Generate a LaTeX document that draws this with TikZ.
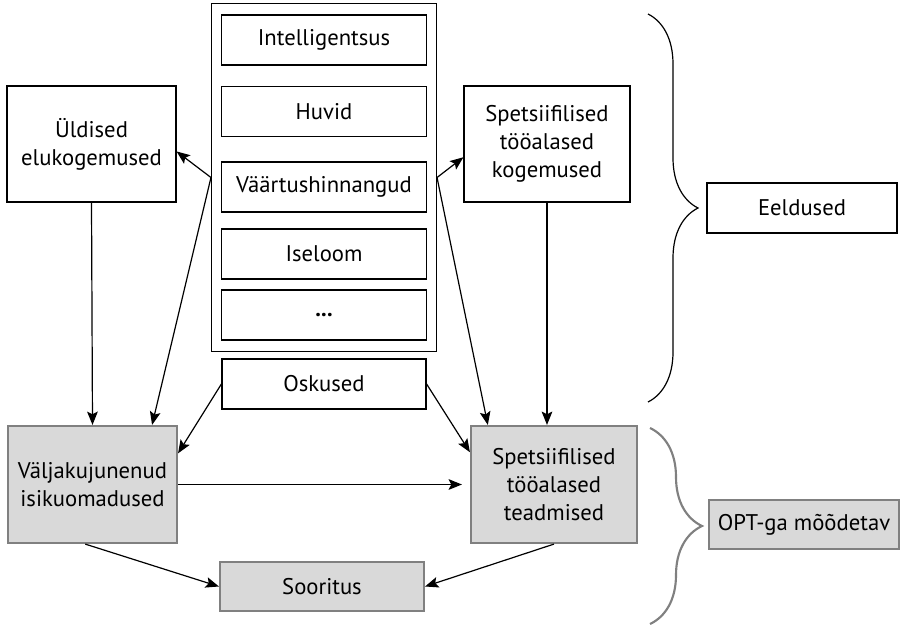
\documentclass[tikz,border=0pt]{standalone}
\usepackage{fontspec}
\setmainfont{PT Sans}
\usetikzlibrary{arrows.meta}
\usetikzlibrary{positioning}
\usetikzlibrary{fit}
\usetikzlibrary{decorations.pathreplacing}
\definecolor{boxgray}{RGB}{217,217,217}
\definecolor{edgegray}{RGB}{128,128,128}

\begin{document}
\begin{tikzpicture}[>={Stealth[length=10pt,width=8pt,inset=2pt]}, x=0.75pt, y=-0.75pt,
    box/.style={draw, line width=0.9pt, align=center, inner sep=0pt, font=\fontsize{17}{21}\selectfont},
    grey box/.style={box, fill=boxgray, draw=edgegray, line width=1.6pt},
    arr/.style={->, line width=0.9pt}]
        \useasboundingbox (0,0) rectangle (900,625);

        % column of traits
        \node[box, minimum width=153.75pt, minimum height=37.5pt] (intel) at (324,40) {Intelligentsus};
        \node[box, minimum width=153.75pt, minimum height=38pt] (huvid) at (324,111.5) {Huvid};
        \node[box, minimum width=153.75pt, minimum height=37.5pt] (vaart) at (324,187) {Väärtushinnangud};
        \node[box, minimum width=153.75pt, minimum height=37.5pt] (iseloom) at (324,254) {Iseloom};
        \node[box, minimum width=153.75pt, minimum height=37.5pt] (dots) at (324,315) {\textbf{...}};
        \node[draw, line width=0.9pt, inner xsep=7pt, inner ysep=8pt, fit=(intel)(dots)] (col) {};
        \node[box, minimum width=153pt, minimum height=37.5pt] (osk) at (324,384) {Oskused};

        \node[box, minimum width=126.75pt, minimum height=87pt] (uld) at (91.5,144) {Üldised\\elukogemused};
        \node[box, minimum width=124.5pt, minimum height=87pt] (spk) at (547,144) {Spetsiifilised\\tööalased\\kogemused};
        \node[grey box, minimum width=126.75pt, minimum height=87.75pt] (valj) at (92.5,484.5) {Väljakujunenud\\isikuomadused};
        \node[grey box, minimum width=124.5pt, minimum height=87.75pt] (spt) at (554,484.5) {Spetsiifilised\\tööalased\\teadmised};
        \node[grey box, minimum width=153pt, minimum height=36.75pt] (soor) at (322,586.5) {Sooritus};

        \node[box, minimum width=142.5pt, minimum height=37.5pt] (eeld) at (802,208) {Eeldused};
        \node[grey box, minimum width=142.5pt, minimum height=36.75pt] (opt) at (804,524.5) {OPT-ga mõõdetav};

        \draw[decorate, decoration={brace, amplitude=37.5pt}, line width=0.9pt] (648,14) -- (648,402);
        \draw[decorate, decoration={brace, amplitude=39pt}, draw=edgegray, line width=1.6pt] (650,428) -- (650,624);

        \draw[arr] (col.west) -- (uld.-5);
        \draw[arr] (col.west) -- (valj.45);
        \draw[arr] (uld.south) -- (valj.north);
        \draw[arr] (osk.west) -- (valj.20);
        \draw[arr] (osk.east) -- (spt.159);
        \draw[arr] (col.east) -- (spk.189);
        \draw[arr] (col.east) -- (spt.138);
        \draw[arr] (spk.south) -- (spk.south |- spt.north);
        \draw[arr, shorten >=6pt] (valj.east) -- (spt.west);
        \draw[arr] (valj.-97) -- (soor.west);
        \draw[arr] (spt.south) -- (soor.east);
\end{tikzpicture}
\end{document}
